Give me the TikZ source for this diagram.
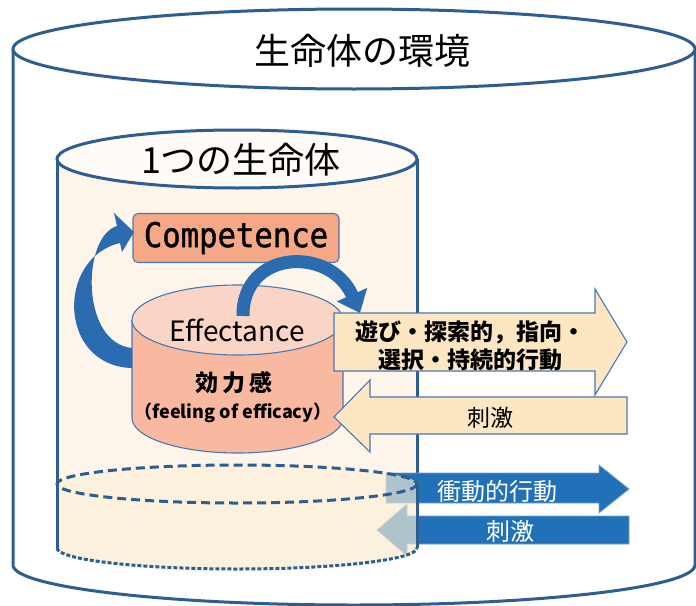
\documentclass[tikz,border=0pt]{standalone}
\usepackage{fontspec}
\setmainfont{Noto Sans CJK JP}
\newfontfamily\monofnt[FakeStretch=0.9,FakeBold=1.2]{DejaVu Sans Mono}
\usetikzlibrary{arrows.meta}
\definecolor{cylblue}{HTML}{2E5D92}
\definecolor{thinblue}{HTML}{4A78B4}
\definecolor{innerfill}{HTML}{FDF5EA}
\definecolor{innertop}{HTML}{FFFBF6}
\definecolor{lowerfill}{HTML}{FBEFD6}
\definecolor{effbody}{HTML}{F8B9A0}
\definecolor{efftop}{HTML}{FAD4C4}
\definecolor{compfill}{HTML}{F4A886}
\definecolor{yellowfill}{HTML}{FDE6C2}
\definecolor{arrowblue}{HTML}{2171B9}
\definecolor{curveblue}{HTML}{2B6CB1}
\tikzset{
  bigline/.style={draw=cylblue, line width=3pt},
  thinline/.style={draw=thinblue, line width=1.1pt},
  yarrow/.style={thinline, fill=yellowfill},
  barrow/.style={draw=thinblue!70, line width=0.8pt, fill=arrowblue},
  curvearrow/.style={draw=curveblue, line width=13pt, -{Triangle[width=32pt,length=20pt]}},
  jptext/.style={inner sep=0pt, font=\fontsize{23}{28}\selectfont\bfseries, align=center},
}
\begin{document}
\begin{tikzpicture}[x=1pt,y=-1pt]
\useasboundingbox (0,0) rectangle (696,605);
\begin{scope}
\clip (0,0) rectangle (696,605);
% outer cylinder
\path[fill=white] (13,49) -- (13,565) arc[start angle=180,end angle=0,x radius=341,y radius=40] -- (695,49) -- cycle;
\draw[bigline] (13,49) -- (13,565) arc[start angle=180,end angle=0,x radius=341,y radius=40] -- (695,49);
\draw[bigline, fill=white] (354,49) ellipse[x radius=341, y radius=40];
\node[inner sep=0pt, font=\fontsize{36}{40}\selectfont] (env) at (362,51) {生命体の環境};

% inner cylinder body
\fill[innerfill] (57,159) -- (57,548) arc[start angle=180,end angle=0,x radius=180,y radius=21] -- (417,159) -- cycle;
\draw[bigline] (57,159) -- (57,484);
\draw[bigline] (417,159) -- (417,484);
\draw[bigline, fill=innertop] (237,159) ellipse[x radius=180, y radius=29];
\node[inner sep=0pt, font=\fontsize{36}{40}\selectfont] (organism) at (241,160) {1つの生命体};

% effectance cylinder
\path[fill=effbody] (132,320) -- (132,418) arc[start angle=180,end angle=0,x radius=105.5,y radius=35] -- (343,320) -- cycle;
\draw[thinline] (132,320) -- (132,418) arc[start angle=180,end angle=0,x radius=105.5,y radius=35] -- (343,320);
\draw[thinline, fill=efftop] (237.5,320) ellipse[x radius=105.5, y radius=35];
\node[inner sep=0pt, font=\fontsize{28}{32}\selectfont] (eff) at (237,330) {Effectance};
\node[inner sep=0pt, font=\fontsize{23}{28}\selectfont\bfseries] (kan) at (234,383) {効\,力\,感};
\node[inner sep=0pt, font=\fontsize{18}{22}\selectfont\bfseries] (feel) at (233,413) {（feeling of efficacy）};

% competence box
\node[thinline, fill=compfill, rounded corners=5pt, minimum width=206pt, minimum height=49pt, inner sep=0pt,
      font=\monofnt\fontsize{34}{36}\selectfont] (comp) at (236,238) {Competence};

% yellow arrows
\draw[yarrow] (334,313) -- (595,313) -- (595,289) -- (627,342) -- (595,395) -- (595,371) -- (334,371) -- cycle;
\node[jptext] (play) at (470,346) {遊び・探索的，指向・\\選択・持続的行動};
\draw[yarrow] (627,397) -- (370,397) -- (370,380) -- (334,417) -- (370,452) -- (370,434) -- (627,434) -- cycle;
\node[inner sep=0pt, font=\fontsize{23}{28}\selectfont] (stim1) at (490,418) {刺激};

% curved arrow: effectance -> competence (tapered block arrow)
\coordinate (c1s) at (132,368);
\coordinate (c1tip) at (134,232);
\fill[curveblue] (c1s) .. controls (58,366) and (56,258) .. (120,243)
   -- (122,252) -- (c1tip) -- (114,213) -- (117,226)
   .. controls (82,236) and (80,343) .. (132,348) -- cycle;
% curved arrow: effectance -> behaviour
\coordinate (c2s) at (243,316);
\coordinate (c2e) at (360,313);
\draw[curvearrow] (c2s) .. controls (242,250) and (330,245) .. (c2e);

% blue arrows
\draw[barrow] (386,473) -- (599,473) -- (599,465) -- (629,489) -- (599,513) -- (599,503) -- (386,503) -- cycle;
\draw[barrow] (629,516) -- (407,516) -- (407,504) -- (377,530) -- (407,556) -- (407,544) -- (629,544) -- cycle;

% lower (dashed) part of inner cylinder
\fill[lowerfill, fill opacity=0.65] (57,484) -- (57,548) arc[start angle=180,end angle=0,x radius=180,y radius=21] -- (417,484) arc[start angle=0,end angle=-180,x radius=180,y radius=19] -- cycle;
\draw[draw=cylblue, line width=3pt, dash pattern=on 9pt off 5pt] (237,484) ellipse[x radius=180, y radius=19];
\draw[draw=cylblue, line width=3pt, dash pattern=on 4pt off 2pt] (57,548) arc[start angle=180,end angle=0,x radius=180,y radius=21];
\draw[bigline] (57,484) -- (57,548);
\draw[bigline] (417,484) -- (417,548);

\node[inner sep=0pt, text=white, font=\fontsize{24}{28}\selectfont] (impulse) at (497,491) {衝動的行動};
\node[inner sep=0pt, text=white, font=\fontsize{24}{28}\selectfont] (stim2) at (510,531) {刺激};
\end{scope}
\end{tikzpicture}
\end{document}
